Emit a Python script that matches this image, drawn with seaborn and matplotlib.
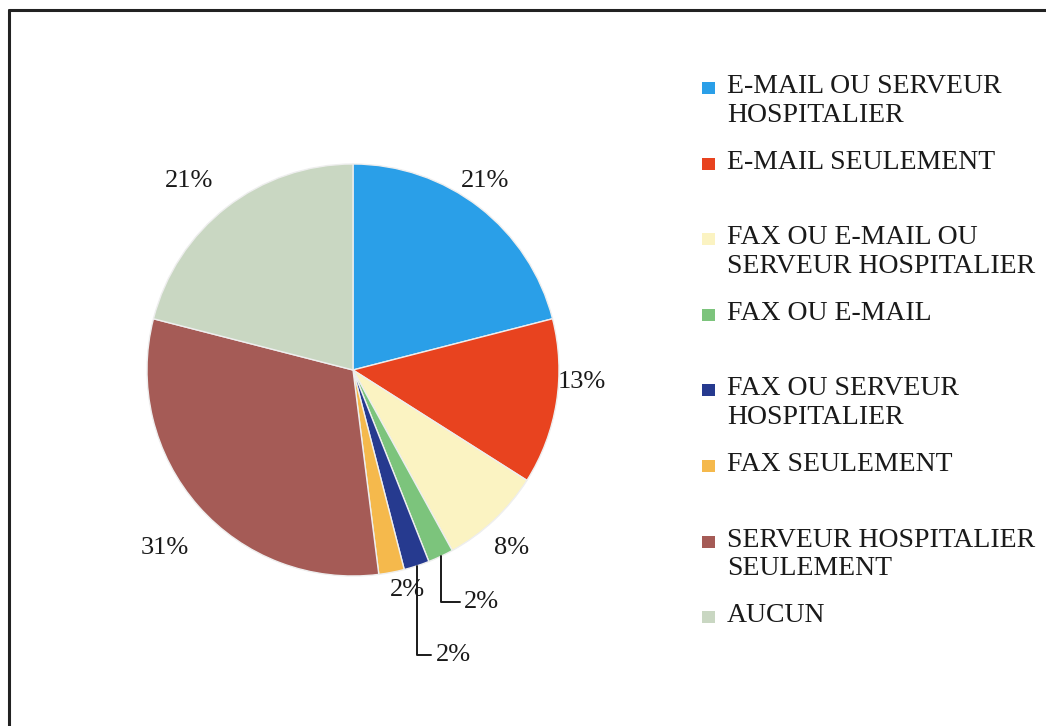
import numpy as np
import matplotlib
matplotlib.use('Agg')
import matplotlib.pyplot as plt
from matplotlib.patches import Rectangle
from matplotlib.lines import Line2D
import seaborn as sns

# données
categories = ['E-MAIL OU SERVEUR\nHOSPITALIER', 'E-MAIL SEULEMENT',
              'FAX OU E-MAIL OU\nSERVEUR HOSPITALIER', 'FAX OU E-MAIL',
              'FAX OU SERVEUR\nHOSPITALIER', 'FAX SEULEMENT',
              'SERVEUR HOSPITALIER\nSEULEMENT', 'AUCUN']
values = [21, 13, 8, 2, 2, 2, 31, 21]
pct_labels = ['21%', '13%', '8%', '2%', '2%', '2%', '31%', '21%']
colors = ['#2a9fe8', '#e8431f', '#fbf3c2', '#7cc47c', '#263a8f', '#f5b94c', '#a55b56', '#c9d7c2']

# placement des étiquettes (rayon, décalage angulaire) ; None -> ligne de rappel
label_r = [1.12, 1.11, 1.16, None, None, 1.10, 1.26, 1.215]
label_dth = [3, 6, -1.5, 0, 0, 3, 2, 3]
leader_offsets = {3: (17, -33), 4: (14, -64)}

sns.set_theme(style='white')
plt.rcParams['font.family'] = ['Liberation Serif', 'DejaVu Serif']

W, H = 1046, 726
fig = plt.figure(figsize=(W / 100, H / 100), dpi=100)
fig.patch.set_facecolor('white')

# axe du camembert : centre (353, 370) px, rayon 206 px
R, cx, cy = 206, 353, 370
span = 1.6
ax = fig.add_axes([(cx - span * R) / W, (H - cy - span * R) / H, 2 * span * R / W, 2 * span * R / H])

wedges, _ = ax.pie(values, colors=colors, startangle=90, counterclock=False,
                   wedgeprops=dict(edgecolor='#eeeeee', linewidth=1.0))
ax.set_xlim(-span, span)
ax.set_ylim(-span, span)
ax.set_aspect('equal')
ax.axis('off')

for i, w in enumerate(wedges):
    mid = np.deg2rad((w.theta1 + w.theta2) / 2)
    if label_r[i] is None:
        ex, ey = np.cos(mid), np.sin(mid)
        dx, dy = leader_offsets[i]
        ax.annotate(pct_labels[i], xy=(ex, ey), xytext=(dx, dy), textcoords='offset points',
                    ha='left', va='center', fontsize=19, color='#1a1a1a',
                    arrowprops=dict(arrowstyle='-', color='#1a1a1a', lw=1.4,
                                    connectionstyle='angle,angleA=0,angleB=90,rad=0',
                                    shrinkA=1, shrinkB=0))
    else:
        th = mid + np.deg2rad(label_dth[i])
        ax.text(label_r[i] * np.cos(th), label_r[i] * np.sin(th), pct_labels[i],
                ha='center', va='center', fontsize=19, color='#1a1a1a')

# légende manuelle
first_y = 88
step = 75.6
for i, (lab, col) in enumerate(zip(categories, colors)):
    y = first_y + i * step
    fig.patches.append(Rectangle((702 / W, 1 - (y + 6) / H), 13 / W, 12 / H,
                                 transform=fig.transFigure, facecolor=col, edgecolor='none'))
    fig.text(727 / W, 1 - (y - 14) / H, lab, ha='left', va='top', fontsize=20,
             color='#1a1a1a', linespacing=1.2)

# cadre (bords gauche et haut)
fig.lines.append(Line2D([9 / W, 9 / W], [0, 1 - 10 / H], transform=fig.transFigure, color='#222222', lw=2.2))
fig.lines.append(Line2D([9 / W, 1], [1 - 10 / H, 1 - 10 / H], transform=fig.transFigure, color='#222222', lw=2.2))

fig.savefig('out.png', dpi=100)
